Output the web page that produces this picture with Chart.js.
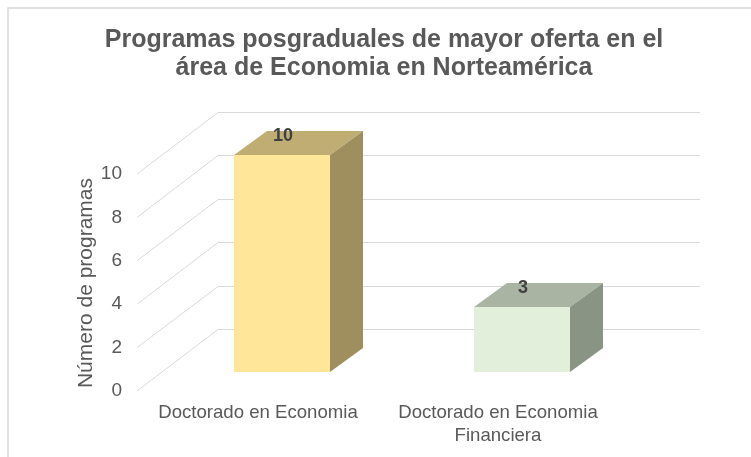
<!DOCTYPE html>
<html>
<head>
<meta charset="utf-8">
<script src="https://cdn.jsdelivr.net/npm/chart.js@4"></script>
<style>
    html, body { margin: 0; padding: 0; background: #fff; }
    #wrap { width: 751px; height: 457px; }
</style>
</head>
<body>
<div id="wrap"><canvas id="chartPosgrado" width="751" height="457"></canvas></div>
<script>
var titleLines = ['Programas posgraduales de mayor oferta en el', 'área de Economia en Norteamérica'];
var categories = [['Doctorado en Economia'], ['Doctorado en Economia', 'Financiera']];
var programas = [10, 3];
var yTicks = [0, 2, 4, 6, 8, 10];
var yTitle = 'Número de programas';

var frontColors = ['#FFE699', '#E2EFDA'];
var topColors = ['#BFAD73', '#A9B4A3'];
var sideColors = ['#A08F5E', '#8A9485'];

var FONT = '"Liberation Sans", Arial, sans-serif';

// draws the fake 3D walls, the bar tops/sides and the texts Excel puts around
var threeD = {
    id: 'threeD',
    beforeDraw: function (chart) {
        var ctx = chart.ctx;
        ctx.save();
        ctx.strokeStyle = '#D9D9D9';
        ctx.lineWidth = 1.5;
        ctx.beginPath();
        ctx.moveTo(8, 457);
        ctx.lineTo(8, 8);
        ctx.lineTo(751, 8);
        ctx.stroke();
        ctx.restore();
    },
    beforeDatasetsDraw: function (chart) {
        var ctx = chart.ctx;
        var a = chart.chartArea;
        var y = chart.scales.y;
        var backL = a.left + 56, backR = a.right + 58, frontX = a.left - 25;
        ctx.save();
        ctx.strokeStyle = '#D9D9D9';
        ctx.lineWidth = 1;
        yTicks.forEach(function (v) {
            var p = y.getPixelForValue(v);
            var yb = Math.round(p - 43) + 0.5;
            ctx.beginPath();
            ctx.moveTo(frontX, p + 19);
            ctx.lineTo(backL, yb);
            ctx.lineTo(backR, yb);
            ctx.stroke();
        });
        ctx.restore();
    },
    afterDatasetsDraw: function (chart) {
        var ctx = chart.ctx;
        var meta = chart.getDatasetMeta(0);
        var dx = 33, dy = -24;
        ctx.save();
        meta.data.forEach(function (bar, i) {
            var l = bar.x - bar.width / 2, r = bar.x + bar.width / 2;
            var t = bar.y, b = bar.base;
            ctx.fillStyle = topColors[i];
            ctx.beginPath();
            ctx.moveTo(l, t);
            ctx.lineTo(l + dx, t + dy);
            ctx.lineTo(r + dx, t + dy);
            ctx.lineTo(r, t);
            ctx.closePath();
            ctx.fill();
            ctx.fillStyle = sideColors[i];
            ctx.beginPath();
            ctx.moveTo(r, t);
            ctx.lineTo(r + dx, t + dy);
            ctx.lineTo(r + dx, b + dy);
            ctx.lineTo(r, b);
            ctx.closePath();
            ctx.fill();

            ctx.fillStyle = '#404040';
            ctx.font = 'bold 18px ' + FONT;
            ctx.textAlign = 'center';
            ctx.textBaseline = 'middle';
            ctx.fillText(String(programas[i]), bar.x + 1, t - 19);
        });
        ctx.restore();
    },
    afterDraw: function (chart) {
        var ctx = chart.ctx;
        ctx.save();
        ctx.fillStyle = '#595959';
        ctx.textAlign = 'center';
        ctx.textBaseline = 'alphabetic';
        ctx.font = 'bold 25px ' + FONT;
        ctx.fillText(titleLines[0], 384, 47);
        ctx.fillText(titleLines[1], 384, 75);

        ctx.font = '21px ' + FONT;
        ctx.translate(92, 283);
        ctx.rotate(-Math.PI / 2);
        ctx.fillText(yTitle, 0, 0);
        ctx.restore();
    }
};

document.addEventListener('DOMContentLoaded', function () {
    var el = document.getElementById('chartPosgrado');
    new Chart(el, {
        type: 'bar',
        data: {
            labels: categories,
            datasets: [{
                label: yTitle,
                data: programas,
                backgroundColor: frontColors,
                borderWidth: 0,
                barPercentage: 0.4,
                categoryPercentage: 1
            }]
        },
        options: {
            responsive: false,
            animation: false,
            events: [],
            layout: { padding: { top: 155, right: 109, bottom: 13, left: 101 } },
            scales: {
                x: {
                    grid: { display: false, drawTicks: false },
                    border: { display: false },
                    afterFit: function (axis) { axis.height = 72; },
                    ticks: {
                        color: '#595959',
                        font: { family: FONT, size: 18.6, lineHeight: 1.2 },
                        padding: 30,
                        labelOffset: -24,
                        maxRotation: 0,
                        autoSkip: false
                    }
                },
                y: {
                    min: 0,
                    max: 10,
                    afterBuildTicks: function (axis) {
                        axis.ticks = yTicks.map(function (v) { return { value: v }; });
                    },
                    afterFit: function (axis) { axis.width = 61; },
                    grid: { display: false, drawTicks: false },
                    border: { display: false },
                    ticks: {
                        color: '#595959',
                        font: { family: FONT, size: 19 },
                        padding: 40,
                        labelOffset: 19
                    }
                }
            },
            plugins: {
                legend: { display: false },
                tooltip: { enabled: false },
                title: { display: false }
            }
        },
        plugins: [threeD]
    });
});
</script>
</body>
</html>
